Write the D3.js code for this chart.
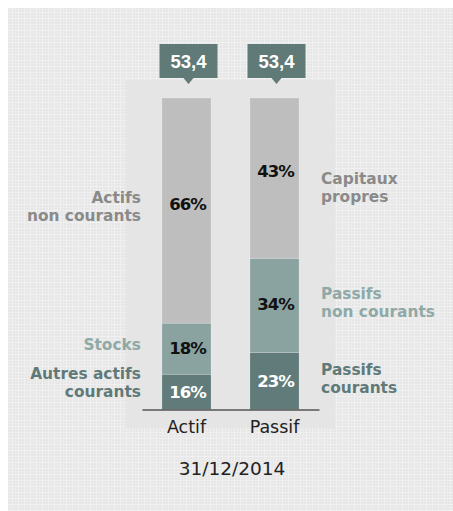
<!DOCTYPE html>
<html>
<head>
<meta charset="utf-8">
<script src="https://cdn.jsdelivr.net/npm/d3@7"></script>
<style>
  html, body { margin: 0; padding: 0; background: #fff; }
  svg { display: block; }
</style>
</head>
<body>
<div id="chart"></div>
<script>
// categories and totals (millions)
const categories = ["Actif", "Passif"];
const totals = [53.4, 53.4];
const dateLabel = "31/12/2014";

// segments, bottom to top
const actifNames = [["Autres actifs", "courants"], ["Stocks"], ["Actifs", "non courants"]];
const actifPct = [16, 18, 66];
const actifShare = [11.3, 16.4, 72.3];   // bar heights as drawn in the picture

const passifNames = [["Passifs", "courants"], ["Passifs", "non courants"], ["Capitaux", "propres"]];
const passifPct = [23, 34, 43];
const passifShare = [18.3, 30.2, 51.5];

const fills = ["#607b79", "#8aa3a1", "#bebebe"];
const nameColors = ["#5f7a78", "#8fa9a7", "#8a8a8a"];
const pctColors = ["#ffffff", "#111111", "#111111"];

const width = 453, height = 511;
const font = "'Century Gothic', 'DejaVu Sans', sans-serif";
const lineH = 18;

const svg = d3.select("#chart").append("svg")
  .attr("width", width)
  .attr("height", height);

// plaid background
const defs = svg.append("defs");
const pat = defs.append("pattern")
  .attr("id", "plaid")
  .attr("patternUnits", "userSpaceOnUse")
  .attr("width", 6).attr("height", 6);
pat.append("rect").attr("width", 6).attr("height", 6).attr("fill", "#e6e6e6");
pat.append("rect").attr("x", 0).attr("width", 1).attr("height", 6).attr("fill", "#f1f1f1");
pat.append("rect").attr("y", 0).attr("width", 6).attr("height", 1).attr("fill", "#f1f1f1");
pat.append("rect").attr("x", 3).attr("width", 1).attr("height", 6).attr("fill", "#ececec");
pat.append("rect").attr("y", 3).attr("width", 6).attr("height", 1).attr("fill", "#ececec");

svg.append("rect")
  .attr("x", 8).attr("y", 8)
  .attr("width", width - 8).attr("height", height - 8)
  .attr("fill", "url(#plaid)");

// plot panel
svg.append("rect")
  .attr("x", 126).attr("y", 80)
  .attr("width", 209).attr("height", 348)
  .attr("fill", "#e5e5e5");

const x = d3.scaleBand()
  .domain(categories)
  .range([142, 319])
  .paddingInner(0.443)
  .paddingOuter(0.227);

const y = d3.scaleLinear()
  .domain([0, 100])
  .range([409.5, 98]);

const stacks = [
  { cat: "Actif", names: actifNames, pct: actifPct, share: actifShare, side: "left" },
  { cat: "Passif", names: passifNames, pct: passifPct, share: passifShare, side: "right" }
];

// small vertical nudges of the side names, bottom to top
const nameNudge = { left: [-9, -4, -4], right: [-3, -3, 9] };

stacks.forEach(s => {
  let acc = 0;
  const segs = s.share.map((v, i) => {
    const seg = { y0: acc, y1: acc + v, i };
    acc += v;
    return seg;
  });
  const g = svg.append("g");
  g.selectAll("rect")
    .data(segs)
    .enter().append("rect")
    .attr("x", x(s.cat))
    .attr("width", x.bandwidth())
    .attr("y", d => y(d.y1))
    .attr("height", d => y(d.y0) - y(d.y1))
    .attr("fill", d => fills[d.i])
    .attr("stroke", "rgba(255,255,255,0.18)")
    .attr("stroke-width", 1);

  // percent labels
  g.selectAll("text.pct")
    .data(segs)
    .enter().append("text")
    .attr("class", "pct")
    .attr("x", x(s.cat) + x.bandwidth() / 2 + 1)
    .attr("y", d => (y(d.y0) + y(d.y1)) / 2 - (d.i === 2 ? 7 : d.i === 1 ? 1 : 0))
    .attr("dy", "0.36em")
    .attr("text-anchor", "middle")
    .attr("font-family", font)
    .attr("font-weight", "bold")
    .attr("font-size", 16.5)
    .attr("letter-spacing", -1)
    .attr("fill", d => pctColors[d.i])
    .text(d => s.pct[d.i] + "%");

  // side names
  const left = s.side === "left";
  const nx = left ? x(s.cat) - 21 : x(s.cat) + x.bandwidth() + 22;
  segs.forEach(d => {
    const lines = s.names[d.i];
    const mid = (y(d.y0) + y(d.y1)) / 2 + nameNudge[s.side][d.i];
    const top = mid - (lines.length - 1) * lineH / 2;
    const t = g.append("text")
      .attr("text-anchor", left ? "end" : "start")
      .attr("font-family", font)
      .attr("font-weight", "bold")
      .attr("font-size", 15.4)
      .attr("fill", nameColors[d.i]);
    lines.forEach((ln, k) => {
      t.append("tspan")
        .attr("x", nx)
        .attr("y", top + k * lineH)
        .attr("dy", "0.36em")
        .text(ln);
    });
  });
});

// total callouts
categories.forEach((c, i) => {
  const cx = x(c) + x.bandwidth() / 2 + 2;
  const g = svg.append("g");
  g.append("rect")
    .attr("x", cx - 29).attr("y", 44)
    .attr("width", 58).attr("height", 34)
    .attr("fill", "#5f7a77");
  g.append("path")
    .attr("d", `M${cx - 5},78 L${cx},84 L${cx + 5},78 Z`)
    .attr("fill", "#5f7a77");
  g.append("text")
    .attr("x", cx).attr("y", 61)
    .attr("dy", "0.36em")
    .attr("text-anchor", "middle")
    .attr("font-family", "'Liberation Sans', Arial, sans-serif")
    .attr("font-weight", "bold")
    .attr("font-size", 18.5)
    .attr("fill", "#ffffff")
    .text(d3.format(".1f")(totals[i]).replace(".", ","));
});

// category axis
const axis = svg.append("g")
  .attr("transform", "translate(0,409.5)")
  .call(d3.axisBottom(x).tickSize(0).tickSizeOuter(0).tickPadding(11));
axis.select(".domain").attr("stroke", "#555").attr("stroke-width", 1.5);
axis.selectAll(".tick text")
  .attr("font-family", font)
  .attr("font-size", 17.5)
  .attr("fill", "#222");

svg.append("text")
  .attr("x", 232).attr("y", 475)
  .attr("text-anchor", "middle")
  .attr("font-family", font)
  .attr("font-size", 18.5)
  .attr("fill", "#222")
  .text(dateLabel);
</script>
</body>
</html>
